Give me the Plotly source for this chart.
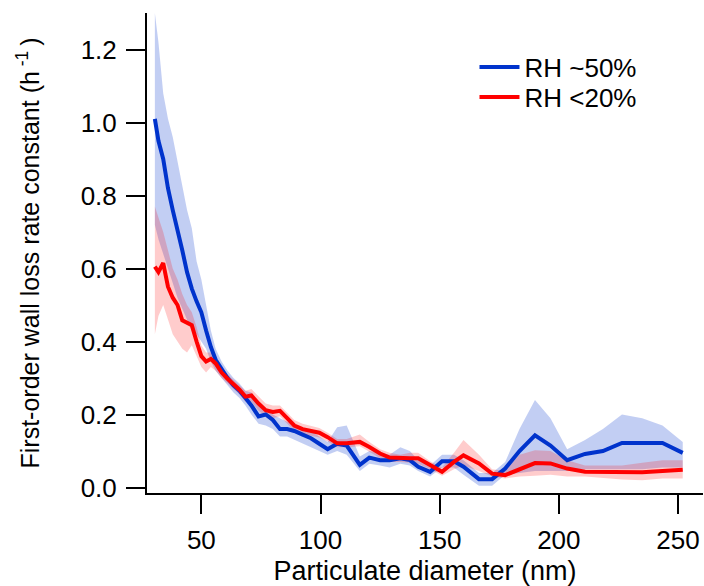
import plotly.graph_objects as go

diameter = [30.5, 32, 34, 36, 38, 40, 42, 44, 46, 48, 50, 52, 54, 56, 58.5, 61, 63.5, 66, 68.5, 71,
            74, 77, 80, 83, 86, 89, 92.5, 96, 99.5, 103, 107, 111, 116.5, 120.5, 125, 129, 133.5, 137.5,
            141, 146, 151, 156, 160, 166.5, 172, 177.5, 183.5, 190, 196.5, 203.5, 211, 218.5, 226.5,
            235, 243.5, 252]

rh50_mean = [1.01, 0.95, 0.90, 0.82, 0.76, 0.71, 0.65, 0.59, 0.545, 0.51, 0.48, 0.43, 0.385, 0.35,
             0.325, 0.30, 0.28, 0.265, 0.245, 0.225, 0.195, 0.20, 0.185, 0.16, 0.16, 0.155, 0.145,
             0.135, 0.12, 0.105, 0.12, 0.115, 0.062, 0.082, 0.075, 0.075, 0.08, 0.075, 0.057, 0.043,
             0.072, 0.072, 0.057, 0.023, 0.023, 0.052, 0.10, 0.143, 0.115, 0.075, 0.092, 0.10, 0.122,
             0.122, 0.122, 0.095]
rh50_hi = [1.30, 1.22, 1.08, 1.01, 0.96, 0.89, 0.82, 0.76, 0.71, 0.62, 0.57, 0.50, 0.43, 0.38,
           0.345, 0.32, 0.30, 0.285, 0.265, 0.26, 0.235, 0.215, 0.20, 0.19, 0.18, 0.175, 0.16,
           0.155, 0.14, 0.125, 0.165, 0.17, 0.085, 0.10, 0.095, 0.09, 0.11, 0.10, 0.075, 0.06,
           0.09, 0.09, 0.075, 0.04, 0.04, 0.07, 0.16, 0.24, 0.19, 0.105, 0.13, 0.16, 0.20,
           0.19, 0.17, 0.125]
rh50_lo = [0.72, 0.68, 0.64, 0.60, 0.56, 0.52, 0.49, 0.46, 0.43, 0.42, 0.40, 0.38, 0.345, 0.32,
           0.30, 0.28, 0.26, 0.245, 0.225, 0.20, 0.175, 0.17, 0.16, 0.14, 0.14, 0.13, 0.12,
           0.11, 0.10, 0.09, 0.10, 0.09, 0.045, 0.065, 0.06, 0.055, 0.065, 0.06, 0.045, 0.03,
           0.055, 0.055, 0.035, 0.005, 0.005, 0.035, 0.04, 0.045, 0.045, 0.045, 0.05, 0.05, 0.05,
           0.05, 0.055, 0.055]

rh20_mean = [0.605, 0.59, 0.615, 0.55, 0.52, 0.50, 0.458, 0.45, 0.445, 0.40, 0.36, 0.345, 0.352,
             0.34, 0.315, 0.298, 0.283, 0.268, 0.249, 0.252, 0.23, 0.212, 0.207, 0.21, 0.19, 0.17,
             0.16, 0.155, 0.15, 0.138, 0.121, 0.121, 0.125, 0.111, 0.093, 0.082, 0.08, 0.08, 0.08,
             0.061, 0.043, 0.07, 0.088, 0.066, 0.038, 0.034, 0.049, 0.067, 0.066, 0.052, 0.043,
             0.043, 0.043, 0.042, 0.045, 0.049]
rh20_hi = [0.77, 0.74, 0.70, 0.65, 0.60, 0.57, 0.53, 0.50, 0.48, 0.44, 0.39, 0.37, 0.37, 0.36,
           0.33, 0.31, 0.295, 0.28, 0.265, 0.27, 0.25, 0.23, 0.225, 0.225, 0.205, 0.185, 0.175,
           0.168, 0.163, 0.15, 0.133, 0.133, 0.145, 0.125, 0.105, 0.095, 0.09, 0.095, 0.095,
           0.072, 0.055, 0.095, 0.13, 0.09, 0.05, 0.045, 0.09, 0.102, 0.10, 0.075, 0.06, 0.06,
           0.06, 0.068, 0.075, 0.075]
rh20_lo = [0.42, 0.47, 0.50, 0.46, 0.42, 0.40, 0.38, 0.37, 0.39, 0.36, 0.33, 0.315, 0.33, 0.32,
           0.30, 0.285, 0.27, 0.255, 0.235, 0.235, 0.21, 0.195, 0.19, 0.195, 0.175, 0.155, 0.145,
           0.142, 0.137, 0.126, 0.11, 0.11, 0.113, 0.098, 0.08, 0.07, 0.07, 0.068, 0.065, 0.05,
           0.032, 0.05, 0.06, 0.045, 0.03, 0.025, 0.03, 0.032, 0.035, 0.03, 0.03, 0.027, 0.022,
           0.02, 0.025, 0.025]

x_ticks = [50, 100, 150, 200, 250]
y_ticks = [0.0, 0.2, 0.4, 0.6, 0.8, 1.0, 1.2]

BLUE = "rgb(0,51,204)"
RED = "rgb(255,0,0)"
FONT = "Liberation Sans, Arial, sans-serif"

fig = go.Figure()
fig.add_trace(go.Scatter(x=diameter + diameter[::-1], y=rh50_hi + rh50_lo[::-1], fill="toself",
                         fillcolor="rgba(0,51,204,0.24)", line=dict(width=0), mode="lines",
                         hoverinfo="skip", showlegend=False))
fig.add_trace(go.Scatter(x=diameter + diameter[::-1], y=rh20_hi + rh20_lo[::-1], fill="toself",
                         fillcolor="rgba(255,0,0,0.2)", line=dict(width=0), mode="lines",
                         hoverinfo="skip", showlegend=False))
fig.add_trace(go.Scatter(x=diameter, y=rh50_mean, mode="lines", name="RH ~50%",
                         line=dict(color=BLUE, width=4), legend="legend"))
fig.add_trace(go.Scatter(x=diameter, y=rh20_mean, mode="lines", name="RH <20%",
                         line=dict(color=RED, width=4), legend="legend2"))

axis_common = dict(showline=True, linecolor="black", linewidth=2, ticks="outside", ticklen=19,
                   tickwidth=2, tickcolor="black", showgrid=False, zeroline=False,
                   tickfont=dict(family=FONT, size=26, color="black"))

legend_common = dict(xanchor="left", yanchor="top", bgcolor="rgba(0,0,0,0)",
                     font=dict(family=FONT, size=26), itemwidth=40)

fig.update_layout(
    width=704, height=586,
    margin=dict(l=147, r=1, t=13, b=93),
    paper_bgcolor="white", plot_bgcolor="white",
    font=dict(family=FONT, size=26, color="black"),
    xaxis=dict(range=[27.2, 260.5], tickvals=x_ticks, ticktext=[str(v) for v in x_ticks],
               ticklabelstandoff=4,
               title=dict(text="Particulate diameter (nm)", font=dict(family=FONT, size=27), standoff=8),
               **axis_common),
    yaxis=dict(range=[-0.015, 1.30], tickvals=y_ticks, ticktext=[f"{v:.1f}" for v in y_ticks],
               ticklabelstandoff=4,
               title=dict(text="First-order wall loss rate constant (h<sup> -1 </sup>)",
                          font=dict(family=FONT, size=25), standoff=34),
               **axis_common),
    legend=dict(x=0.589, y=0.936, **legend_common),
    legend2=dict(x=0.589, y=0.874, **legend_common),
    showlegend=True,
)

fig.write_html("out.html")
